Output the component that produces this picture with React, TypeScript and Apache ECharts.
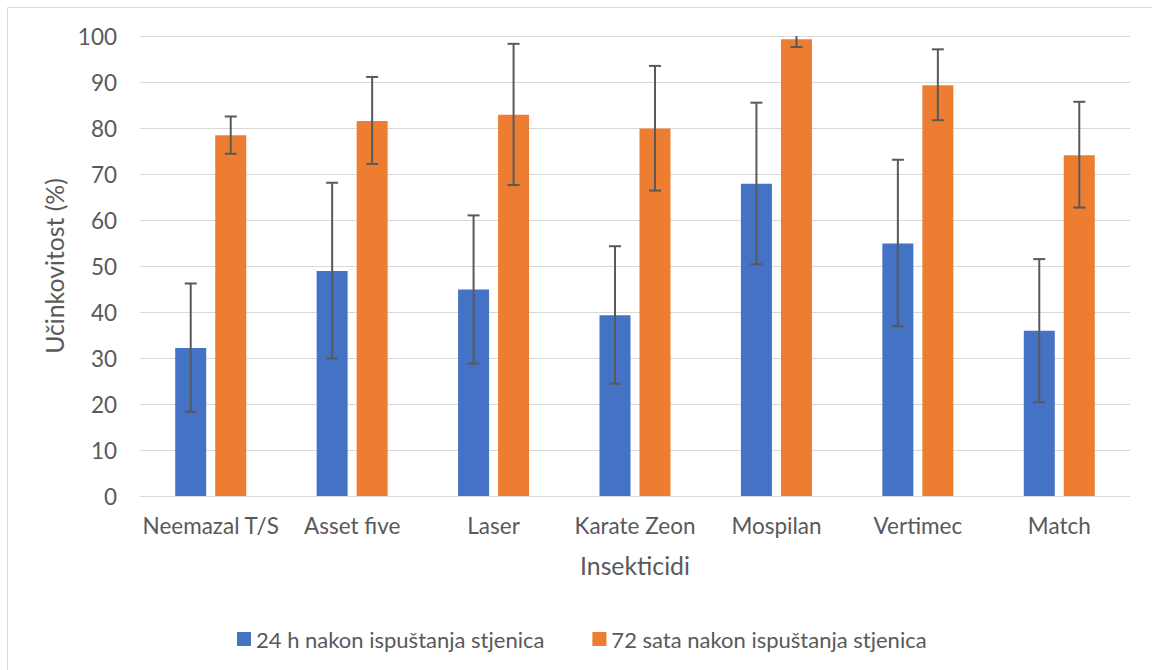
import React, { useEffect, useRef } from "react";
import * as echarts from "echarts";

const categories = ["Neemazal T/S", "Asset five", "Laser", "Karate Zeon", "Mospilan", "Vertimec", "Match"];
const seriesNames = ["24 h nakon ispuštanja stjenica", "72 sata nakon ispuštanja stjenica"];
const values24h = [32.2, 48.9, 44.9, 39.3, 67.9, 54.9, 35.9];
const low24h = [18.3, 29.9, 28.8, 24.4, 50.4, 36.9, 20.4];
const high24h = [46.2, 68.1, 61.0, 54.3, 85.5, 73.1, 51.5];
const values72h = [78.4, 81.5, 82.9, 79.9, 99.3, 89.3, 74.1];
const low72h = [74.4, 72.2, 67.6, 66.4, 97.6, 81.7, 62.7];
const high72h = [82.5, 91.1, 98.3, 93.5, 101.0, 97.1, 85.7];
const yTicks = { min: 0, max: 100, interval: 10 };
const yAxisTitle = "Učinkovitost (%)";
const xAxisTitle = "Insekticidi";

const FONT = "Lato";
const LABEL_SIZE = 22.5;
const LEGEND_SIZE = 22;
const TITLE_SIZE = 24.8;
const TEXT_COLOR = "#595959";
const BLUE = "#4472C4";
const ORANGE = "#ED7D31";
const BAR_W = 31;
const BAR_GAP_PX = 9;

function errorSeries(low: number[], high: number[], offset: number) {
  return {
    type: "custom",
    silent: true,
    clip: true,
    z: 10,
    data: low.map((l, i) => [i, l, high[i]]),
    encode: { x: 0, y: [1, 2] },
    renderItem: (params: any, api: any) => {
      const idx = api.value(0);
      const lo = api.coord([idx, api.value(1)]);
      const hi = api.coord([idx, api.value(2)]);
      const x = lo[0] + offset;
      const cap = 6;
      const style = { stroke: "#595959", lineWidth: 2 };
      return {
        type: "group",
        children: [
          { type: "line", shape: { x1: x, y1: lo[1], x2: x, y2: hi[1] }, style },
          { type: "line", shape: { x1: x - cap, y1: lo[1], x2: x + cap, y2: lo[1] }, style },
          { type: "line", shape: { x1: x - cap, y1: hi[1], x2: x + cap, y2: hi[1] }, style },
        ],
      };
    },
  };
}

export default function App() {
  const ref = useRef<HTMLDivElement>(null);
  useEffect(() => {
    if (!ref.current) return;
    const chart = echarts.init(ref.current, undefined, { renderer: "svg" });
    const off = (BAR_W + BAR_GAP_PX) / 2;
    chart.setOption({
      animation: false,
      backgroundColor: "#ffffff",
      textStyle: { fontFamily: FONT },
      grid: { left: 140, right: 22, top: 36, bottom: 174, containLabel: false },
      graphic: [
        {
          type: "rect",
          shape: { x: 7.5, y: 7.5, width: 1200, height: 700 },
          style: { fill: "none", stroke: "#D9D9D9", lineWidth: 1 },
          silent: true,
        },
      ],
      legend: {
        data: seriesNames,
        left: 232,
        top: 623,
        icon: "rect",
        itemWidth: 14,
        itemHeight: 14,
        itemGap: 48,
        textStyle: { color: TEXT_COLOR, fontSize: LEGEND_SIZE, fontFamily: FONT },
      },
      xAxis: {
        type: "category",
        data: categories,
        name: xAxisTitle,
        nameLocation: "middle",
        nameGap: 57,
        nameTextStyle: { color: TEXT_COLOR, fontSize: TITLE_SIZE, fontFamily: FONT },
        axisLine: { lineStyle: { color: "#D9D9D9", width: 1 } },
        axisTick: { show: false },
        axisLabel: { color: TEXT_COLOR, fontSize: LABEL_SIZE, fontFamily: FONT, margin: 18, interval: 0 },
      },
      yAxis: {
        type: "value",
        min: yTicks.min,
        max: yTicks.max,
        interval: yTicks.interval,
        name: yAxisTitle,
        nameLocation: "middle",
        nameGap: 44,
        nameRotate: 90,
        nameTextStyle: { color: TEXT_COLOR, fontSize: TITLE_SIZE, fontFamily: FONT },
        axisLine: { show: false },
        axisTick: { show: false },
        axisLabel: { color: TEXT_COLOR, fontSize: LABEL_SIZE, fontFamily: FONT, margin: 23 },
        splitLine: { lineStyle: { color: "#D9D9D9", width: 1 } },
      },
      series: [
        {
          name: seriesNames[0],
          type: "bar",
          data: values24h,
          barWidth: BAR_W,
          barGap: (BAR_GAP_PX / BAR_W) * 100 + "%",
          itemStyle: { color: BLUE },
        },
        {
          name: seriesNames[1],
          type: "bar",
          data: values72h,
          barWidth: BAR_W,
          itemStyle: { color: ORANGE },
        },
        errorSeries(low24h, high24h, -off),
        errorSeries(low72h, high72h, off),
      ],
    });
    return () => chart.dispose();
  }, []);
  return (
    <div
      ref={ref}
      style={{ position: "fixed", left: 0, top: 0, width: 1152, height: 670 }}
    />
  );
}
